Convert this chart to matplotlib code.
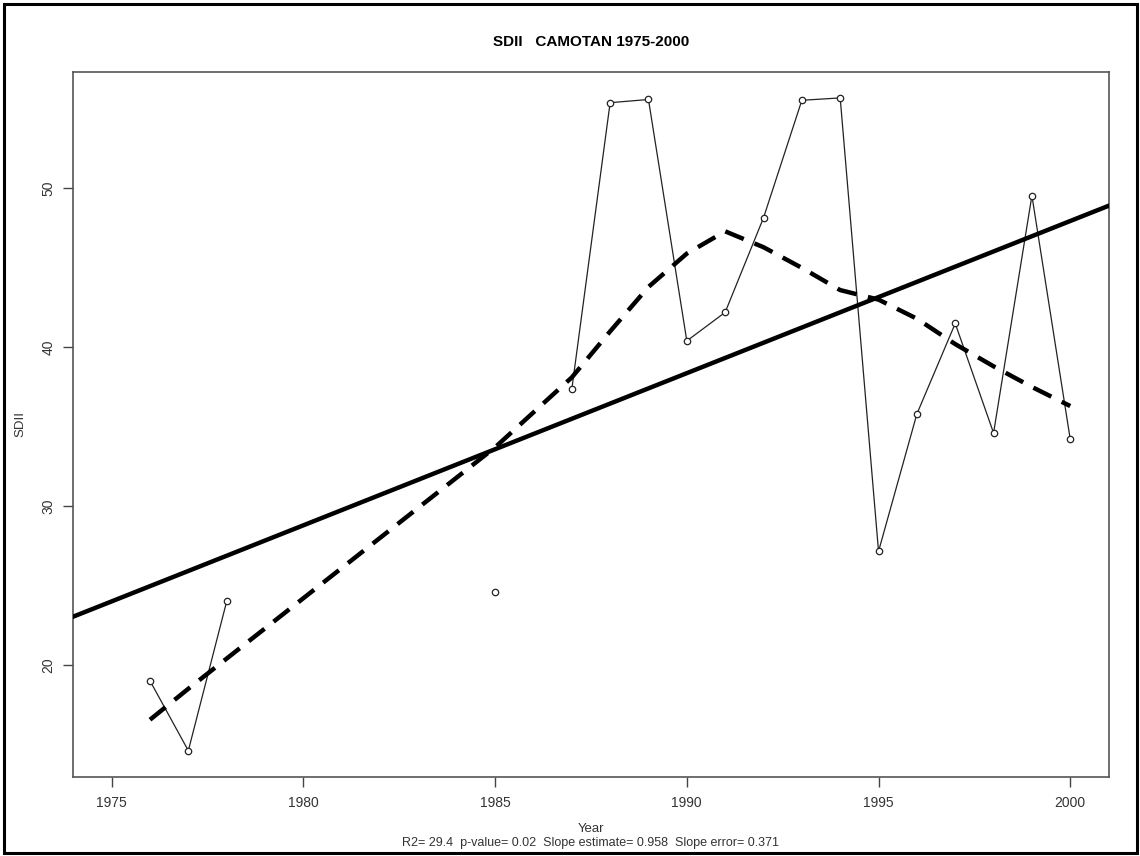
import matplotlib
matplotlib.use("Agg")
import matplotlib.pyplot as plt
from matplotlib.patches import Rectangle
import numpy as np

plt.rcParams['font.family'] = ['Liberation Sans', 'DejaVu Sans']

# Observed SDII values (missing years are absent)
years = [1976, 1977, 1978, 1985, 1987, 1988, 1989, 1990, 1991, 1992, 1993,
         1994, 1995, 1996, 1997, 1998, 1999, 2000]
sdii = [19.0, 14.6, 24.0, 24.6, 37.35, 55.4, 55.6, 40.4, 42.2, 48.15, 55.55,
        55.7, 27.15, 35.8, 41.5, 34.6, 49.55, 34.2]

# Smoothed (lowess) curve values
smooth_years = [1976, 1977, 1978, 1985, 1987, 1988, 1989, 1990, 1991, 1992,
                1993, 1994, 1995, 1996, 1997, 1998, 1999, 2000]
smooth_vals = [16.55, 18.5, 20.4, 33.7, 38.1, 41.0, 43.8, 45.9, 47.3, 46.3,
               45.0, 43.6, 43.0, 41.8, 40.2, 38.8, 37.5, 36.3]

# Linear trend
slope = 0.958
trend_at_1985 = 33.58

xticks = [1975, 1980, 1985, 1990, 1995, 2000]
yticks = [20, 30, 40, 50]

title = "SDII   CAMOTAN 1975-2000"
xlabel = "Year"
ylabel = "SDII"
subtitle = "R2= 29.4  p-value= 0.02  Slope estimate= 0.958  Slope error= 0.371"

W, H = 1140, 856
fig = plt.figure(figsize=(W / 100, H / 100), dpi=100)
ax = fig.add_axes([73.3 / W, 1 - 776.8 / H, (1108.6 - 73.3) / W, (776.8 - 71.8) / H])

# Data line with open circles; break at gaps (consecutive years only)
segs = []
cur_x, cur_y = [years[0]], [sdii[0]]
for i in range(1, len(years)):
    if years[i] - years[i - 1] == 1:
        cur_x.append(years[i]); cur_y.append(sdii[i])
    else:
        segs.append((cur_x, cur_y))
        cur_x, cur_y = [years[i]], [sdii[i]]
segs.append((cur_x, cur_y))
for sx, sy in segs:
    ax.plot(sx, sy, color='#222222', lw=0.9, zorder=2)
ax.plot(years, sdii, linestyle='none', marker='o', markersize=4.6,
        markerfacecolor='white', markeredgecolor='#222222', markeredgewidth=0.9, zorder=3)

ax.axline((1985, trend_at_1985), slope=slope, color='black', lw=3.2, zorder=4)
ax.plot(smooth_years, smooth_vals, color='black', lw=3.2, dashes=(4.5, 2.6), zorder=4)

ax.set_xlim(1974, 2001)
ymin, ymax = min(sdii), max(sdii)
pad = 0.04 * (ymax - ymin)
ax.set_ylim(ymin - pad, ymax + pad)

ax.set_xticks(xticks)
ax.set_yticks(yticks)
ax.set_xticklabels([str(v) for v in xticks], fontsize=10, color='#333333')
ax.set_yticklabels([str(v) for v in yticks], fontsize=10, color='#333333',
                   rotation=90, va='center')
ax.tick_params(axis='both', direction='out', length=7, width=1.0, color='#444444')
ax.tick_params(axis='x', pad=7)
ax.tick_params(axis='y', pad=6)
for sp in ax.spines.values():
    sp.set_color('#555555')
    sp.set_linewidth(1.2)

fig.text((73.3 + 1108.6) / 2 / W, 1 - 42 / H, title, ha='center', va='center',
         fontsize=11, fontweight='bold')
fig.text((73.3 + 1108.6) / 2 / W, 1 - 829 / H, xlabel, ha='center', va='center',
         fontsize=9.5, color='#333333')
fig.text((73.3 + 1108.6) / 2 / W, 1 - 843 / H, subtitle, ha='center', va='center',
         fontsize=9, color='#333333')
fig.text(20 / W, 1 - 424 / H, ylabel, ha='center', va='center', rotation=90,
         fontsize=9.5, color='#333333')

# Outer frame
fig.add_artist(Rectangle((3.5 / W, 3.5 / H), (W - 7) / W, (H - 7) / H,
                         transform=fig.transFigure, fill=False, ec='black', lw=2.2))

fig.savefig("out.png", dpi=100)
